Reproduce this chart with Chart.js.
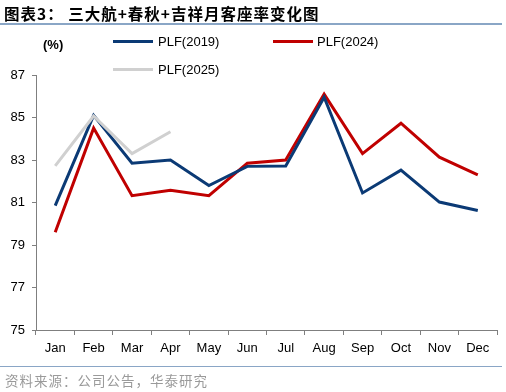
<!DOCTYPE html>
<html><head><meta charset="utf-8">
<script src="https://cdn.jsdelivr.net/npm/chart.js@4"></script>
<style>
html,body{margin:0;padding:0;background:#fff;}
#wrap{position:relative;width:506px;height:392px;overflow:hidden;font-family:"Liberation Sans",Arial,sans-serif;}
#c{position:absolute;left:0;top:0;}
.t{position:absolute;white-space:nowrap;}
#title{left:4px;top:2px;font:bold 15.5px "Noto Sans CJK SC",sans-serif;color:#000;letter-spacing:1px;}
#rule1{position:absolute;left:0;top:23px;width:502px;height:2px;background:#8aa6c6;}
#rule2{position:absolute;left:0;top:366px;width:502px;height:1px;background:#8aa6c6;}
#src{left:5px;top:370px;font:13.5px "Noto Sans CJK SC",serif;color:#9a9a9a;letter-spacing:1px;}
#unit{left:43px;top:37px;font:bold 13px "Liberation Sans",Arial,sans-serif;color:#000;}
.lg{position:absolute;height:3px;width:40px;}
.lt{font:13px "Liberation Sans",Arial,sans-serif;color:#000;}
</style></head>
<body><div id="wrap">
<canvas id="c" width="506" height="392"></canvas>
<div id="title" class="t">图表3：  三大航+春秋+吉祥月客座率变化图</div>
<div id="rule1"></div>
<div id="unit" class="t">(%)</div>
<div class="lg" style="left:113px;top:40px;background:#0b3a75"></div>
<div class="t lt" style="left:158px;top:34px">PLF(2019)</div>
<div class="lg" style="left:273px;top:40px;background:#c00000"></div>
<div class="t lt" style="left:317px;top:34px">PLF(2024)</div>
<div class="lg" style="left:113px;top:68px;background:#d0d0d0"></div>
<div class="t lt" style="left:158px;top:62px">PLF(2025)</div>
<div id="rule2"></div>
<div id="src" class="t">资料来源：公司公告，华泰研究</div>
</div>
<script>
const months = ["Jan","Feb","Mar","Apr","May","Jun","Jul","Aug","Sep","Oct","Nov","Dec"];
const plf2019 = [80.85, 85.1, 82.85, 83.0, 81.8, 82.7, 82.72, 85.95, 81.45, 82.52, 81.02, 80.62];
const plf2024 = [79.6, 84.5, 81.32, 81.58, 81.32, 82.85, 83.0, 86.1, 83.3, 84.73, 83.13, 82.3];
const plf2025 = [82.72, 85.07, 83.3, 84.33];
const yMin = 75, yMax = 87, yStep = 2;

const tickFont = {family:"'Liberation Sans', Arial, sans-serif", size:13};
new Chart(document.getElementById('c'), {
  type:'line',
  data:{labels:months, datasets:[
    {label:'PLF(2019)', data:plf2019, borderColor:'#0b3a75', borderWidth:3, pointRadius:0, tension:0, order:2},
    {label:'PLF(2024)', data:plf2024, borderColor:'#c00000', borderWidth:3, pointRadius:0, tension:0, order:3},
    {label:'PLF(2025)', data:plf2025, borderColor:'#d0d0d0', borderWidth:3, pointRadius:0, tension:0, order:1}
  ]},
  options:{
    responsive:false, animation:false, devicePixelRatio:1,
    layout:{padding:{left:0,right:9,top:75,bottom:0}},
    plugins:{legend:{display:false}, tooltip:{enabled:false}},
    scales:{
      x:{offset:true,
         grid:{offset:true, drawOnChartArea:false, tickLength:5, color:'#7f7f7f'},
         border:{color:'#7f7f7f', width:1},
         ticks:{font:tickFont, color:'#000', padding:6, maxRotation:0, autoSkip:false},
         afterFit:s=>{s.height=62;}},
      y:{min:yMin, max:yMax,
         grid:{drawOnChartArea:false, tickLength:4, color:'#7f7f7f'},
         border:{color:'#7f7f7f', width:1},
         ticks:{stepSize:yStep, font:tickFont, color:'#000', padding:7},
         afterFit:s=>{s.width=36;}}
    }
  }
});
</script>
</body></html>
